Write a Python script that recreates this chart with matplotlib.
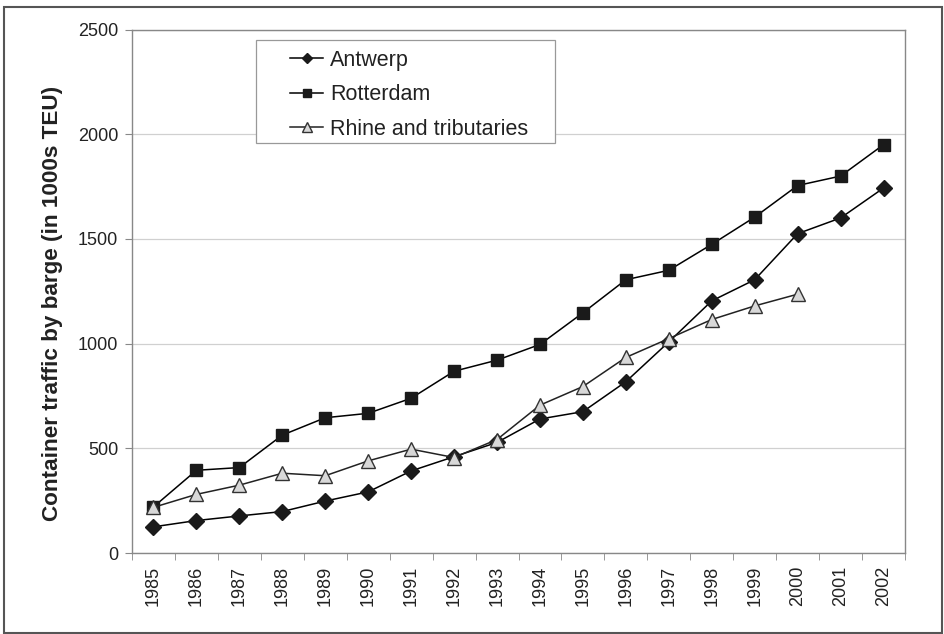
import numpy as np
import matplotlib.pyplot as plt
from matplotlib.patches import Rectangle

plt.rcParams['font.family'] = ['Liberation Sans', 'DejaVu Sans']

years = [str(y) for y in range(1985, 2003)]
antwerp = [125, 155, 177, 198, 248, 292, 392, 460, 528, 640, 675, 818, 1008, 1204, 1305, 1525, 1600, 1743]
rotterdam = [220, 395, 408, 563, 646, 667, 739, 868, 921, 996, 1147, 1305, 1350, 1474, 1604, 1755, 1800, 1950]
rhine = [218, 280, 324, 381, 369, 440, 496, 456, 542, 706, 795, 934, 1024, 1115, 1180, 1236]

fig = plt.figure(figsize=(9.45, 6.34), dpi=100)
ax = fig.add_axes([132/945, 1 - 553/634, (905-132)/945, (553-29.5)/634])

x = np.arange(len(years))
ax.plot(x, antwerp, color='black', lw=1.1, marker='D', ms=8, mfc='#1a1a1a', mec='#1a1a1a', label='Antwerp')
ax.plot(x, rotterdam, color='black', lw=1.1, marker='s', ms=9, mfc='#1a1a1a', mec='#1a1a1a', label='Rotterdam')
ax.plot(x[:len(rhine)], rhine, color='#222222', lw=1.1, marker='^', ms=10, mfc='#d8d8d8', mec='#333333', mew=1, label='Rhine and tributaries')

ax.set_xlim(-0.5, len(years) - 0.5)
ax.set_ylim(0, 2500)
ax.set_yticks(np.arange(0, 2501, 500))
ax.set_xticks(x)
ax.set_xticklabels(years, rotation=90)
ax.set_xticks(np.arange(-0.5, len(years), 1), minor=True)
ax.tick_params(axis='x', which='major', length=0, pad=9, labelsize=13, colors='#222222')
ax.tick_params(axis='x', which='minor', length=5, color='#888888')
ax.tick_params(axis='y', length=5, color='#888888', labelsize=13, labelcolor='#222222', pad=5)
ax.grid(axis='y', color='#d0d0d0', lw=0.9)
ax.set_axisbelow(True)
for s in ax.spines.values():
    s.set_color('#888888')
    s.set_linewidth(1)

ax.set_ylabel('Container traffic by barge (in 1000s TEU)', fontsize=16.2, fontweight='bold', color='#222222')
ax.yaxis.set_label_coords(-0.089, 0.476)

# legend box drawn by hand, entries placed inside it
ax.add_patch(Rectangle(((256-132)/773, (553-143)/523.5), (555-256)/773, (143-40)/523.5, transform=ax.transAxes,
                       facecolor='white', edgecolor='#999999', lw=0.9, zorder=4, clip_on=False))
leg = ax.legend(loc='upper left', bbox_to_anchor=((290-132)/773, (553-50)/523.5), fontsize=15.5,
                frameon=False, handlelength=1.55, handletextpad=0.3, markerscale=0.7,
                borderpad=0, labelspacing=0.62, borderaxespad=0)
leg.set_zorder(5)
for t in leg.get_texts():
    t.set_color('#222222')

fig.patches.append(Rectangle((4/945, 1 - 633/634), (942-4)/945, (633-7)/634, transform=fig.transFigure,
                             fill=False, edgecolor='#555555', lw=1.5))

fig.savefig('out.png', dpi=100)
